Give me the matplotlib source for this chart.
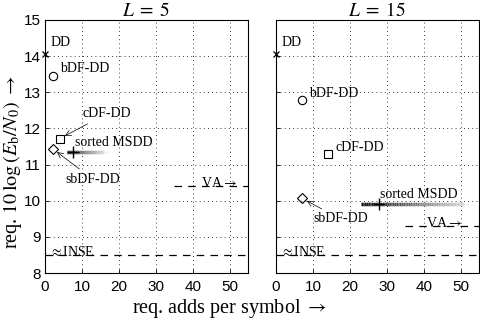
import numpy as np
import matplotlib
matplotlib.use("Agg")
import matplotlib.pyplot as plt
from matplotlib.collections import LineCollection

plt.rcParams['mathtext.fontset'] = 'stix'
serif = 'Liberation Serif'
sans = 'Liberation Sans'

titles = ['$L\\;=\\;5$', '$L\\;=\\;15$']
# (x = adds per symbol, y = req. Eb/N0 in dB)
dd = [(0, 14.07), (0, 14.07)]
bdf = [(2, 13.45), (7, 12.8)]
cdf = [(4, 11.72), (14, 11.3)]
sbdf = [(2, 11.44), (7, 10.07)]
msdd = [(7.5, 11.36), (28, 9.92)]
msdd_smear = [(6, 16, 17.5), (23, 51, 53)]   # start, end of gray trail, faint tail
va_level = [10.4, 9.3]
va_start = 35
inse_level = 8.5

# label positions per panel
lbl_dd = [(1.6, 14.2), (1.6, 14.2)]
lbl_bdf = [(4.0, 13.65), (9.0, 12.97)]
lbl_cdf = [(10.0, 12.4), (16.2, 11.48)]
lbl_sbdf = [(5.5, 10.6), (10.0, 9.5)]
lbl_msdd = [(8.2, 11.6), (28.3, 10.18)]
lbl_va = [(47.0, 10.3), (45.5, 9.2)]

fig = plt.figure(figsize=(4.8, 3.22), dpi=100)
ax1 = fig.add_axes([0.094, 0.152, 0.423, 0.786])
ax2 = fig.add_axes([0.575, 0.152, 0.423, 0.786])

for i, ax in enumerate([ax1, ax2]):
    ax.set_xlim(0, 55)
    ax.set_ylim(8, 15)
    ax.set_xticks([0, 10, 20, 30, 40, 50])
    ax.set_yticks(range(8, 16))
    ax.grid(True, linestyle=(0, (1, 4)), color='black', linewidth=0.6)
    ax.tick_params(direction='in', length=3, labelsize=11, width=0.6)
    ax.tick_params(axis='x', pad=5)
    ax.tick_params(axis='y', pad=3)
    for lab in ax.get_xticklabels() + ax.get_yticklabels():
        lab.set_family(sans)
    for sp in ax.spines.values():
        sp.set_linewidth(0.8)
    ax.set_title(titles[i], fontsize=14, pad=1)

    # INSE and VA dashed lines
    ax.plot([0, 55], [inse_level, inse_level], color='black', lw=0.9,
            linestyle=(0, (6, 5)))
    ax.plot([va_start, 55], [va_level[i], va_level[i]], color='black', lw=0.9,
            linestyle=(0, (6, 5)))

    # gray trail of sorted MSDD
    s0, s1, s2 = msdd_smear[i]
    xs = np.linspace(s0, s1, 60)
    segs = [[(xs[k], msdd[i][1]), (xs[k + 1], msdd[i][1])] for k in range(len(xs) - 1)]
    shade = np.linspace(0.05, 0.85, len(segs))
    lc = LineCollection(segs, colors=[(g, g, g) for g in shade], linewidths=2.5)
    ax.add_collection(lc)
    ax.plot([s1 + 0.5, s2], [msdd[i][1], msdd[i][1]], color='0.85', lw=1,
            linestyle=(0, (1, 3)))

    ax.plot(*dd[i], marker='x', color='black', ms=4, mew=0.9, clip_on=False)
    ax.plot(*bdf[i], marker='o', mfc='none', mec='black', ms=6, mew=0.8)
    ax.plot(*cdf[i], marker='s', mfc='none', mec='black', ms=5.5, mew=0.8)
    ax.plot(*sbdf[i], marker='D', mfc='none', mec='black', ms=5.5, mew=0.8)
    ax.plot(*msdd[i], marker='+', color='black', ms=9, mew=1.0)

    tk = dict(fontsize=10, family=serif, color='black')
    ax.text(*lbl_dd[i], 'DD', ha='left', va='bottom', **tk)
    ax.text(*lbl_bdf[i], 'bDF-DD', ha='left', va='center', **tk)
    ax.text(*lbl_msdd[i], 'sorted MSDD', ha='left', va='center', **tk)
    ax.text(*lbl_va[i], 'VA$\\rightarrow$', ha='center', va='bottom', **tk)
    ax.text(1.0, inse_level - 0.1, '$\\approx$INSE', ha='left', va='bottom', **tk)

    arrow = dict(arrowstyle='->', color='black', lw=0.5, shrinkB=4, shrinkA=1)
    if i == 0:
        ax.annotate('cDF-DD', xy=cdf[i], xytext=lbl_cdf[i], ha='left', va='center',
                    arrowprops=arrow, **tk)
    else:
        ax.text(*lbl_cdf[i], 'cDF-DD', ha='left', va='center', **tk)
    ax.annotate('sbDF-DD', xy=sbdf[i], xytext=lbl_sbdf[i], ha='left', va='center',
                arrowprops=arrow, **tk)

ax2.set_yticklabels([])
ax1.set_ylabel('req. $10\\,\\log\\left(E_\\mathrm{b}/N_0\\right)$ $\\rightarrow$',
               fontsize=14.5, family=serif)
ax1.yaxis.set_label_coords(-0.105, 0.44)
fig.text(0.477, 0.005, 'req. adds per symbol $\\rightarrow$', fontsize=14.5, family=serif,
         ha='center', va='bottom')

fig.savefig('out.png', dpi=100)
